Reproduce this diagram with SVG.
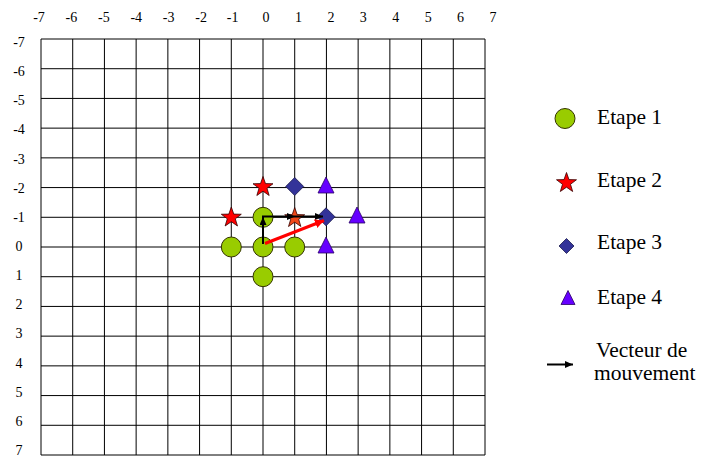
<svg xmlns="http://www.w3.org/2000/svg" xmlns:xlink="http://www.w3.org/1999/xlink" width="707" height="457" viewBox="0 0 707 457">
<style>
.grid{fill:none;stroke:#000;stroke-width:1}
.ax{font-family:'Liberation Serif','Tinos','Times New Roman','DejaVu Serif',serif;font-size:14px;fill:#000;text-anchor:middle}
.lg{font-family:'Liberation Serif','Tinos','Times New Roman','DejaVu Serif',serif;font-size:21.5px;fill:#000}
.circ{fill:#99cc00;stroke:#333300;stroke-width:1}
.star{fill:#ff0000;stroke:#330000;stroke-width:0.8}
.star2{fill:#f04818;stroke:#330000;stroke-width:0.8}
.dia{fill:#333399;stroke:#1a1a4d;stroke-width:0.8}
.tri{fill:#6600ff;stroke:#2a0066;stroke-width:0.8}
.blk{fill:none;stroke:#000;stroke-width:2}
.red{fill:none;stroke:#ff0000;stroke-width:3}
</style>
<defs>
<path id="starShape" d="M0,-10.5 L2.47,-3.4 L9.99,-3.24 L3.99,1.3 L6.17,8.49 L0,4.2 L-6.17,8.49 L-3.99,1.3 L-9.99,-3.24 L-2.47,-3.4 Z"/>
<path id="triShape" d="M0,-9 L8,7 L-8,7 Z"/>
<path id="diaShape" d="M0,-9 L9,0 L0,9 L-9,0 Z"/>
<marker id="ah" markerUnits="userSpaceOnUse" markerWidth="10" markerHeight="8" refX="8" refY="3.5" orient="auto"><path d="M0,0 L8,3.5 L0,7 Z" fill="#000"/></marker>
<marker id="ahr" markerUnits="userSpaceOnUse" markerWidth="12" markerHeight="10" refX="9" refY="4.5" orient="auto"><path d="M0,0 L9,4.5 L0,9 Z" fill="#ff0000"/></marker>
</defs>
<rect width="707" height="457" fill="#fff"/>
<g id="grid">
<path class="grid" d="M41,39V455 M72.71,39V455 M104.43,39V455 M136.14,39V455 M167.86,39V455 M199.57,39V455 M231.29,39V455 M263,39V455 M294.71,39V455 M326.43,39V455 M358.14,39V455 M389.86,39V455 M421.57,39V455 M453.29,39V455 M485,39V455 M41,39H485 M41,68.71H485 M41,98.43H485 M41,128.14H485 M41,157.86H485 M41,187.57H485 M41,217.29H485 M41,247H485 M41,276.71H485 M41,306.43H485 M41,336.14H485 M41,365.86H485 M41,395.57H485 M41,425.29H485 M41,455H485"/>
</g>
<g id="x-labels" font-family="Liberation Serif, serif">
<text class="ax" x="39" y="22">-7</text>
<text class="ax" x="71.4" y="22">-6</text>
<text class="ax" x="103.9" y="22">-5</text>
<text class="ax" x="136.3" y="22">-4</text>
<text class="ax" x="168.7" y="22">-3</text>
<text class="ax" x="201.2" y="22">-2</text>
<text class="ax" x="232.6" y="22">-1</text>
<text class="ax" x="266" y="22">0</text>
<text class="ax" x="298.4" y="22">1</text>
<text class="ax" x="330.9" y="22">2</text>
<text class="ax" x="363.3" y="22">3</text>
<text class="ax" x="395.7" y="22">4</text>
<text class="ax" x="428.2" y="22">5</text>
<text class="ax" x="460.6" y="22">6</text>
<text class="ax" x="493" y="22">7</text>
</g>
<g id="y-labels" font-family="Liberation Serif, serif">
<text class="ax" x="19" y="47">-7</text>
<text class="ax" x="19" y="76.1">-6</text>
<text class="ax" x="19" y="105.3">-5</text>
<text class="ax" x="19" y="134.4">-4</text>
<text class="ax" x="19" y="163.6">-3</text>
<text class="ax" x="19" y="192.7">-2</text>
<text class="ax" x="19" y="221.8">-1</text>
<text class="ax" x="19" y="251">0</text>
<text class="ax" x="19" y="280.1">1</text>
<text class="ax" x="19" y="309.3">2</text>
<text class="ax" x="19" y="338.4">3</text>
<text class="ax" x="19" y="367.5">4</text>
<text class="ax" x="19" y="396.7">5</text>
<text class="ax" x="19" y="425.8">6</text>
<text class="ax" x="19" y="455">7</text>
</g>
<g id="etape1">
<circle class="circ" cx="263" cy="247" r="10"/>
<circle class="circ" cx="263" cy="217.3" r="10"/>
<circle class="circ" cx="231.3" cy="247" r="10"/>
<circle class="circ" cx="294.7" cy="247" r="10"/>
<circle class="circ" cx="263" cy="276.7" r="10"/>
</g>
<g id="etape2">
<use xlink:href="#starShape" class="star" transform="translate(263,187)"/>
<use xlink:href="#starShape" class="star" transform="translate(231.3,217.5)"/>
<use xlink:href="#starShape" class="star2" transform="translate(294.7,218)"/>
</g>
<g id="etape3">
<use xlink:href="#diaShape" class="dia" transform="translate(294.7,186.5)"/>
<use xlink:href="#diaShape" class="dia" transform="translate(326,216.8)"/>
</g>
<g id="etape4">
<use xlink:href="#triShape" class="tri" transform="translate(326,186)"/>
<use xlink:href="#triShape" class="tri" transform="translate(357,216)"/>
<use xlink:href="#triShape" class="tri" transform="translate(326,246)"/>
</g>
<g id="connectors">
<line class="blk" x1="263" y1="244" x2="263" y2="217" marker-end="url(#ah)"/>
<line class="blk" x1="262" y1="216.5" x2="295" y2="216.5" marker-end="url(#ah)"/>
<line class="blk" x1="295" y1="216.5" x2="323" y2="216.5" marker-end="url(#ah)"/>
<line class="red" x1="265" y1="243.5" x2="324" y2="220.5" marker-end="url(#ahr)"/>
</g>
<g id="legend" font-family="Liberation Serif, serif">
<g id="legend-etape1">
<circle class="circ" cx="565" cy="118.5" r="10"/>
<text class="lg" x="597" y="124">Etape 1</text>
</g>
<g id="legend-etape2">
<use xlink:href="#starShape" class="star" transform="translate(566.5,183)"/>
<text class="lg" x="597" y="187">Etape 2</text>
</g>
<g id="legend-etape3">
<path class="dia" d="M566.5,238.5 L574,246 L566.5,253.5 L559,246 Z"/>
<text class="lg" x="597" y="249">Etape 3</text>
</g>
<g id="legend-etape4">
<path class="tri" d="M568,290.5 L575,304.5 L561,304.5 Z"/>
<text class="lg" x="597" y="304">Etape 4</text>
</g>
<g id="legend-vecteur">
<line class="blk" x1="547" y1="364.5" x2="573" y2="364.5" marker-end="url(#ah)"/>
<text class="lg" x="596" y="357">Vecteur de</text>
<text class="lg" x="594" y="380">mouvement</text>
</g>
</g>
</svg>
